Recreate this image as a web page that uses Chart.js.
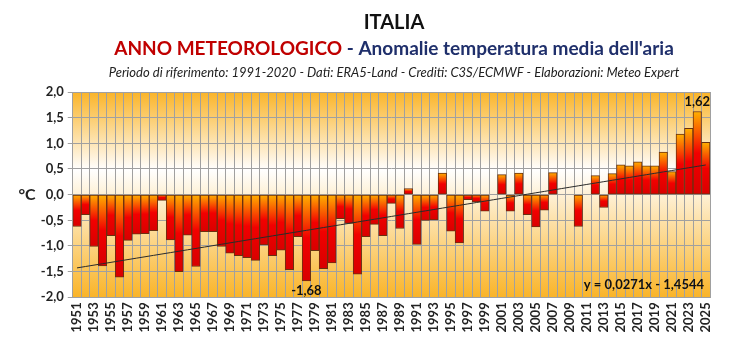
<!DOCTYPE html>
<html>
<head>
<meta charset="utf-8">
<script src="https://cdn.jsdelivr.net/npm/chart.js@4"></script>
<style>
  html, body { margin: 0; padding: 0; background: #fff; }
  #wrap { width: 748px; height: 341px; position: relative; }
</style>
</head>
<body>
<div id="wrap"><canvas id="chart"></canvas></div>
<script>
// anni meteorologici 1951-2025
const years = Array.from({ length: 75 }, (_, i) => String(1951 + i));

// anomalie di temperatura media (°C) rispetto al 1991-2020
const anomalies = [
  -0.62, -0.39, -1.01, -1.39, -0.80, -1.61, -0.89, -0.77, -0.76, -0.70,
  -0.11, -0.88, -1.50, -0.79, -1.40, -0.72, -0.72, -1.01, -1.14, -1.19,
  -1.23, -1.28, -0.98, -1.19, -1.08, -1.46, -0.82, -1.68, -1.09, -1.44,
  -1.33, -0.47, -0.56, -1.55, -0.82, -0.58, -0.80, -0.17, -0.66, 0.12,
  -0.97, -0.50, -0.49, 0.42, -0.71, -0.94, -0.10, -0.14, -0.32, 0.00,
  0.39, -0.32, 0.42, -0.39, -0.63, -0.30, 0.43, 0.00, 0.00, -0.62,
  0.00, 0.37, -0.25, 0.41, 0.58, 0.56, 0.64, 0.56, 0.56, 0.83,
  0.45, 1.18, 1.29, 1.62, 1.02
];

// retta di tendenza (x = 1 per il 1951)
const trendSlope = 0.0271;
const trendIntercept = -1.4544;
const trend = years.map((_, i) => trendSlope * (i + 1) + trendIntercept);

const yTicks = [-2, -1.5, -1, -0.5, 0, 0.5, 1, 1.5, 2];

const fmt = (v, d) => v.toFixed(d).replace('.', ',');

// riempimento delle barre: arancio in alto, rosso in basso
function barFill(context) {
  const chart = context.chart;
  const y = chart.scales.y;
  if (!chart.chartArea || !y) return '#e00000';
  const v = context.raw;
  const top = y.getPixelForValue(Math.max(v, 0));
  const bottom = y.getPixelForValue(Math.min(v, 0));
  if (bottom - top < 1) return '#ff6000';
  const g = chart.ctx.createLinearGradient(0, top, 0, bottom);
  g.addColorStop(0, '#ffb000');
  g.addColorStop(0.5, '#f20000');
  g.addColorStop(1, '#d80000');
  return g;
}

// sfondo area grafico
const plotBackground = {
  id: 'plotBackground',
  beforeDraw(chart) {
    const { ctx, chartArea: a } = chart;
    const g = ctx.createLinearGradient(0, a.top, 0, a.bottom);
    g.addColorStop(0, '#fab428');
    g.addColorStop(0.38, '#ffffff');
    g.addColorStop(1, '#fab428');
    ctx.save();
    ctx.fillStyle = g;
    ctx.fillRect(a.left, a.top, a.right - a.left, a.bottom - a.top);
    ctx.restore();
  }
};

// titoli, unità, etichette min/max ed equazione
const annotations = {
  id: 'annotations',
  afterDraw(chart) {
    const { ctx, chartArea: a } = chart;
    ctx.save();
    ctx.textBaseline = 'middle';

    ctx.textAlign = 'center';
    ctx.fillStyle = '#111';
    ctx.font = 'bold 20px Lato';
    ctx.fillText('ITALIA', 394, 23);

    const part1 = 'ANNO METEOROLOGICO';
    const part2 = ' - Anomalie temperatura media dell\'aria';
    ctx.font = 'bold 19px Lato';
    const w1 = ctx.measureText(part1).width;
    const w2 = ctx.measureText(part2).width;
    let x = 394 - (w1 + w2) / 2;
    ctx.textAlign = 'left';
    ctx.fillStyle = '#c00000';
    ctx.fillText(part1, x, 49);
    ctx.fillStyle = '#1f2f6b';
    ctx.fillText(part2, x + w1, 49);

    ctx.textAlign = 'center';
    ctx.fillStyle = '#222';
    ctx.font = 'italic 13px Lato';
    ctx.fillText('Periodo di riferimento: 1991-2020 - Dati: ERA5-Land - Crediti: C3S/ECMWF - Elaborazioni: Meteo Expert', 394, 73);

    ctx.font = 'bold 16px Lato';
    ctx.fillText('°C', 27, 195);

    const meta = chart.getDatasetMeta(1);
    const maxI = anomalies.indexOf(Math.max(...anomalies));
    const minI = anomalies.indexOf(Math.min(...anomalies));
    ctx.font = 'bold 13px Lato';
    ctx.fillStyle = '#111';
    const maxBar = meta.data[maxI];
    ctx.fillText(fmt(anomalies[maxI], 2), maxBar.x, maxBar.y - 10);
    const minBar = meta.data[minI];
    ctx.fillText(fmt(anomalies[minI], 2), minBar.x, minBar.y + 10);

    ctx.textAlign = 'right';
    ctx.fillText('y = ' + fmt(trendSlope, 4) + 'x - ' + fmt(-trendIntercept, 4), a.right - 6, 285);
    ctx.restore();
  }
};

new Chart(document.getElementById('chart'), {
  data: {
    labels: years,
    datasets: [
      {
        type: 'line',
        data: trend,
        borderColor: '#2a2a2a',
        borderWidth: 1,
        pointRadius: 0,
        order: 1
      },
      {
        type: 'bar',
        data: anomalies,
        backgroundColor: barFill,
        borderColor: '#6a3010',
        borderWidth: 1,
        borderSkipped: false,
        barPercentage: 1,
        categoryPercentage: 1,
        order: 2
      }
    ]
  },
  options: {
    responsive: true,
    maintainAspectRatio: false,
    animation: false,
    devicePixelRatio: 1,
    layout: { padding: { top: 92, right: 38, left: 0, bottom: 0 } },
    plugins: {
      legend: { display: false },
      tooltip: { enabled: false }
    },
    scales: {
      x: {
        offset: true,
        grid: { offset: true, color: '#a0a0a0', drawTicks: false },
        border: { color: '#a0a0a0' },
        ticks: {
          autoSkip: false,
          minRotation: 90,
          maxRotation: 90,
          padding: 5,
          color: '#222',
          font: { family: 'Lato', size: 13, weight: 'bold' },
          callback(value, index) {
            return index % 2 === 0 ? this.getLabelForValue(value) : '';
          }
        },
        afterFit(scale) { scale.height = 43.7; }
      },
      y: {
        min: -2,
        max: 2,
        afterBuildTicks(scale) { scale.ticks = yTicks.map(v => ({ value: v })); },
        grid: { color: '#a0a0a0', tickLength: 5 },
        border: { color: '#a0a0a0' },
        ticks: {
          padding: 4,
          color: '#222',
          font: { family: 'Lato', size: 13, weight: 'bold' },
          callback: v => fmt(v, 1)
        },
        afterFit(scale) { scale.width = 72.75; }
      }
    }
  },
  plugins: [plotBackground, annotations]
});
</script>
</body>
</html>
